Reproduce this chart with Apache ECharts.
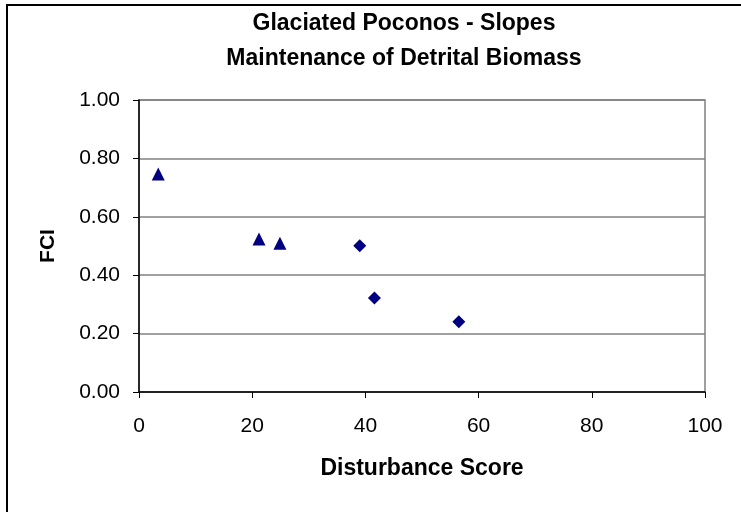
<!DOCTYPE html>
<html>
<head>
<meta charset="utf-8">
<script src="https://cdn.jsdelivr.net/npm/echarts@6/dist/echarts.min.js"></script>
<style>
html,body{margin:0;padding:0;background:#fff;}
#chart{width:741px;height:512px;}
</style>
</head>
<body>
<div id="chart"></div>
<script>
// Data
const titleLines = ['Glaciated Poconos - Slopes', 'Maintenance of Detrital Biomass'];
const xAxisTitle = 'Disturbance Score';
const yAxisTitle = 'FCI';
const triangleX = [3.4, 21.2, 24.9];
const triangleY = [0.747, 0.524, 0.509];
const diamondX = [39.0, 41.6, 56.5];
const diamondY = [0.501, 0.322, 0.241];
const xTicks = [0, 20, 40, 60, 80, 100];
const yTicks = [0.00, 0.20, 0.40, 0.60, 0.80, 1.00];

const font = '"Liberation Sans", Arial, sans-serif';
const navy = '#000080';

const chart = echarts.init(document.getElementById('chart'), null, {renderer: 'canvas'});
chart.setOption({
  animation: false,
  backgroundColor: '#ffffff',
  title: [
    {text: titleLines[0], left: 399, top: 7, textAlign: 'center',
     textStyle: {fontFamily: font, fontWeight: 'bold', fontSize: 23, color: '#000'}},
    {text: titleLines[1], left: 399, top: 42, textAlign: 'center',
     textStyle: {fontFamily: font, fontWeight: 'bold', fontSize: 23, color: '#000'}}
  ],
  graphic: [{
    type: 'rect', silent: true,
    shape: {x: 7, y: 5, width: 800, height: 600},
    style: {fill: 'none', stroke: '#000', lineWidth: 2}
  }],
  grid: {left: 139, right: 36, top: 100, bottom: 120, show: true,
         borderColor: '#808080', borderWidth: 1.5, backgroundColor: 'transparent'},
  xAxis: {
    type: 'value', min: xTicks[0], max: xTicks[xTicks.length - 1], interval: 20,
    name: xAxisTitle, nameLocation: 'middle', nameGap: 65,
    nameTextStyle: {fontFamily: font, fontWeight: 'bold', fontSize: 23, color: '#000'},
    axisLine: {show: true, onZero: false, lineStyle: {color: '#000', width: 1.5}},
    axisTick: {show: true, length: 6, lineStyle: {color: '#000', width: 1}},
    axisLabel: {fontFamily: font, fontSize: 21, color: '#000', margin: 24},
    splitLine: {show: false}
  },
  yAxis: {
    type: 'value', min: yTicks[0], max: yTicks[yTicks.length - 1], interval: 0.2,
    name: yAxisTitle, nameLocation: 'middle', nameGap: 80,
    nameTextStyle: {fontFamily: font, fontWeight: 'bold', fontSize: 21, color: '#000'},
    axisLine: {show: true, lineStyle: {color: '#000', width: 1.5}},
    axisTick: {show: true, length: 6, lineStyle: {color: '#000', width: 1}},
    axisLabel: {fontFamily: font, fontSize: 21, color: '#000', margin: 19,
                formatter: v => v.toFixed(2)},
    splitLine: {show: true, lineStyle: {color: '#808080', width: 1.5}}
  },
  series: [
    {type: 'scatter', name: 'triangles', symbol: 'triangle', symbolSize: 13,
     itemStyle: {color: navy, opacity: 1},
     data: triangleX.map((x, i) => [x, triangleY[i]])},
    {type: 'scatter', name: 'diamonds', symbol: 'diamond', symbolSize: 13,
     itemStyle: {color: navy, opacity: 1},
     data: diamondX.map((x, i) => [x, diamondY[i]])}
  ]
});
</script>
</body>
</html>
